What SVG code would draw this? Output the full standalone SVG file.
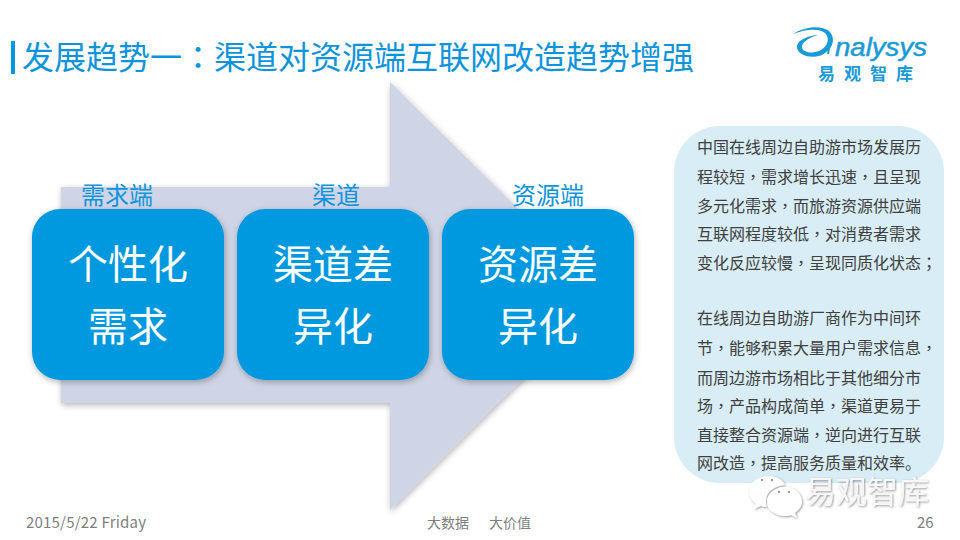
<svg xmlns="http://www.w3.org/2000/svg" width="960" height="540" viewBox="0 0 960 540">
<defs>
<style>
text{font-family:"Noto Sans CJK SC","Liberation Sans",sans-serif}
.p{font-family:"Noto Sans CJK TC",sans-serif}
.node{fill:#0099e0}
.nt{fill:#fff;font-size:40px;text-anchor:middle}
.lb{fill:#0f94dc;font-size:24px;text-anchor:middle}
.pt{fill:#404040;font-size:16px}
.ft{fill:#7f7f7f;font-size:14px}
.eye{fill:#9a9a9a}
</style>
<filter id="s" x="-10%" y="-10%" width="120%" height="120%"><feDropShadow dx="1" dy="2" stdDeviation="3" flood-color="#000" flood-opacity=".3"/></filter>
<filter id="w" x="-10%" y="-10%" width="120%" height="130%"><feDropShadow dx="1" dy="1" stdDeviation="0.8" flood-color="#555" flood-opacity=".6"/></filter>
</defs>
<rect width="960" height="540" fill="#fff"/>
<rect id="title-bar" x="11" y="41" width="4" height="33" fill="#0099e0"/>
<text id="title" x="22" y="69" font-size="32" fill="#0f94dc">发展趋势一<tspan class="p">：</tspan>渠道对资源端互联网改造趋势增强</text>
<g id="logo">
<path d="M793 34C805 26 822 25 829 31C837 39 832 50 822 55C812 59 799 56 797 48C796 41 806 36 818 35C808 38 801 43 802 48C804 53 814 54 821 50C828 46 830 38 825 33C819 28 806 29 793 34Z" fill="#1a9ad6"/>
<path d="M831 38L828 54" fill="none" stroke="#1a9ad6" stroke-width="2"/>
<text x="835" y="56" font-size="25" font-style="italic" fill="#1a9ad6" stroke="#1a9ad6" stroke-width=".5" style="font-family:'Liberation Sans',sans-serif" textLength="92" lengthAdjust="spacingAndGlyphs">nalysys</text>
<text x="818" y="80" font-size="17" font-weight="700" fill="#1a9ad6" letter-spacing="9">易观智库</text>
</g>
<polygon id="arrow" points="61,187 390,187 390,82 606,296 390,510 390,403 61,403" fill="#cfd5e6" filter="url(#s)"/>
<g id="connectors"></g>
<g id="n1"><text class="lb" x="117" y="204">需求端</text><rect class="node" x="32" y="209" width="192" height="171" rx="28" filter="url(#s)"/><text class="nt" x="128" y="279">个性化</text><text class="nt" x="128" y="341">需求</text></g>
<g id="n2"><text class="lb" x="336" y="204">渠道</text><rect class="node" x="237" y="209" width="192" height="171" rx="28" filter="url(#s)"/><text class="nt" x="333" y="279">渠道差</text><text class="nt" x="333" y="341">异化</text></g>
<g id="n3"><text class="lb" x="548" y="204">资源端</text><rect class="node" x="442" y="209" width="192" height="171" rx="28" filter="url(#s)"/><text class="nt" x="538" y="279">资源差</text><text class="nt" x="538" y="341">异化</text></g>
<g id="panel">
<rect x="674" y="126" width="270" height="357" rx="46" fill="#d8edf5"/>
<g class="pt">
<text x="697" y="153">中国在线周边自助游市场发展历</text>
<text x="697" y="183">程较短<tspan class="p">，</tspan>需求增长迅速<tspan class="p">，</tspan>且呈现</text>
<text x="697" y="212">多元化需求<tspan class="p">，</tspan>而旅游资源供应端</text>
<text x="697" y="240">互联网程度较低<tspan class="p">，</tspan>对消费者需求</text>
<text x="697" y="269">变化反应较慢<tspan class="p">，</tspan>呈现同质化状态<tspan class="p">；</tspan></text>
<text x="697" y="324">在线周边自助游厂商作为中间环</text>
<text x="697" y="354">节<tspan class="p">，</tspan>能够积累大量用户需求信息<tspan class="p">，</tspan></text>
<text x="697" y="384">而周边游市场相比于其他细分市</text>
<text x="697" y="412">场<tspan class="p">，</tspan>产品构成简单<tspan class="p">，</tspan>渠道更易于</text>
<text x="697" y="441">直接整合资源端<tspan class="p">，</tspan>逆向进行互联</text>
<text x="697" y="469">网改造<tspan class="p">，</tspan>提高服务质量和效率。</text>
</g>
</g>
<g id="watermark">
<g filter="url(#w)">
<path d="M769 476C758 476 749 483 749 492C749 497 752 501 756 504L754 509L761 506C763 507 765 507 767 507C766 505 766 503 766 501C766 492 774 486 785 485C783 480 777 476 769 476Z" fill="#fff"/>
<path d="M785 487C775 487 767 494 767 502C767 510 775 516 785 516C787 516 789 516 791 515L797 518L795 513C799 510 802 506 802 502C802 494 795 487 785 487Z" fill="#fff"/>
<text x="805" y="503" font-size="31" fill="#f6f6f6">易观智库</text>
</g>
<circle class="eye" cx="762" cy="480" r="1.2"/><circle class="eye" cx="772" cy="480" r="1.2"/>
<circle class="eye" cx="779" cy="492" r="1.2"/><circle class="eye" cx="789" cy="492" r="1.2"/>
</g>
<text class="ft" x="26" y="528" textLength="120" lengthAdjust="spacing" style="font-size:15px">2015/5/22 Friday</text>
<text class="ft" x="427" y="528">大数据</text>
<text class="ft" x="489" y="528">大价值</text>
<text class="ft" x="917" y="528" style="font-size:15px">26</text>
</svg>
